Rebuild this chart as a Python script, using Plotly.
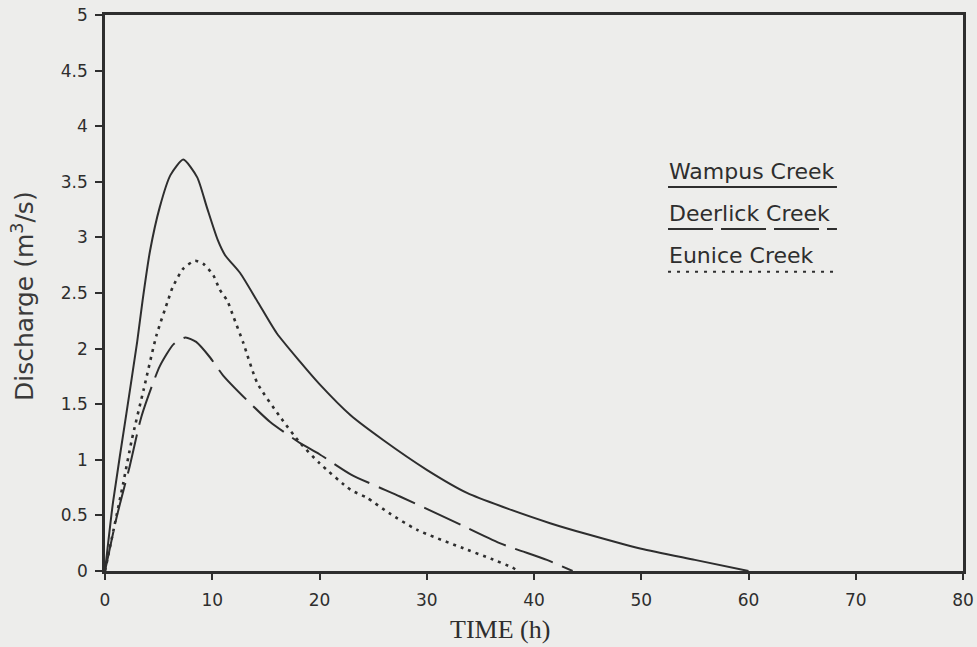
import plotly.graph_objects as go

# Hydrograph ordinates (time in hours, discharge in m^3/s)
wampus_t = [0, 0.75, 2, 3, 3.5, 4.2, 5.1, 6.1, 7.3, 8.6, 9.5, 10.5, 11.2, 12.6, 14.3,
            16, 18.2, 20, 22.9, 25.9, 30, 33.8, 37, 41.5, 45, 50, 55, 60]
wampus_q = [0, 0.62, 1.42, 2.06, 2.43, 2.88, 3.27, 3.56, 3.70, 3.54, 3.27, 2.98, 2.84, 2.68, 2.41,
            2.14, 1.88, 1.68, 1.40, 1.18, 0.91, 0.70, 0.58, 0.43, 0.33, 0.20, 0.10, 0]

deerlick_t = [0, 1.1, 2.3, 3.4, 5.1, 6.4, 7.5, 8.5, 9.8, 11, 13.2, 15.4, 18.2, 20,
              22.9, 27.5, 32.2, 36.8, 41.2, 43.6]
deerlick_q = [0, 0.49, 0.94, 1.39, 1.84, 2.04, 2.10, 2.06, 1.92, 1.76, 1.54, 1.34, 1.15, 1.05,
              0.87, 0.67, 0.46, 0.25, 0.10, 0]

eunice_t = [0, 1.7, 2.5, 3.6, 4.8, 5.9, 6.3, 7.3, 8.4, 9.2, 10.1, 10.7, 11.4, 12.0, 12.9,
            14.2, 16.3, 18.2, 20, 22.9, 24.4, 26.5, 29.1, 33.8, 36, 38, 38.5]
eunice_q = [0, 0.79, 1.18, 1.63, 2.12, 2.44, 2.55, 2.72, 2.79, 2.76, 2.66, 2.53, 2.43, 2.28, 2.05,
            1.69, 1.39, 1.15, 0.97, 0.73, 0.66, 0.52, 0.37, 0.19, 0.11, 0.03, 0]

series_names = ["Wampus Creek", "Deerlick Creek", "Eunice Creek"]
x_ticks = [0, 10, 20, 30, 40, 50, 60, 70, 80]

INK = "#2e2e2e"
BG = "#ededeb"
SANS = "DejaVu Sans"

fig = go.Figure()
fig.add_trace(go.Scatter(x=wampus_t, y=wampus_q, mode="lines", name=series_names[0],
                         line=dict(color=INK, width=2, shape="spline", smoothing=0.6)))
fig.add_trace(go.Scatter(x=deerlick_t, y=deerlick_q, mode="lines", name=series_names[1],
                         line=dict(color=INK, width=2, shape="spline", smoothing=0.6,
                                   dash="40px,10px")))
fig.add_trace(go.Scatter(x=eunice_t, y=eunice_q, mode="lines", name=series_names[2],
                         line=dict(color=INK, width=2.6, shape="spline", smoothing=0.6,
                                   dash="3px,5px")))

axis_common = dict(showline=True, mirror=True, linecolor=INK, linewidth=2.5,
                   ticks="outside", tickcolor=INK, tickwidth=1.5, showgrid=False,
                   zeroline=False, automargin=False,
                   tickfont=dict(family=SANS, size=17, color=INK))

fig.update_xaxes(range=[0, 80], tickvals=x_ticks, ticklen=6, ticklabelstandoff=6, **axis_common)
fig.update_yaxes(range=[0, 5], dtick=0.5, ticklen=7, ticklabelstandoff=4, **axis_common)

# Legend drawn as labels with a line sample underneath each
legend_rows = [
    (series_names[0], 0.7185, 0.6906, 0.8531, dict(color=INK, width=2)),
    (series_names[1], 0.643, 0.615, 0.8531, dict(color=INK, width=2, dash="45px,8px")),
    (series_names[2], 0.568, 0.538, 0.8485, dict(color=INK, width=2, dash="3px,6px")),
]
annotations = []
shapes = []
for name, ty, ly, x1, ls in legend_rows:
    annotations.append(dict(text=name, x=0.655, y=ty, xref="paper", yref="paper",
                            xanchor="left", yanchor="middle", showarrow=False,
                            font=dict(family=SANS, size=22, color=INK)))
    shapes.append(dict(type="line", xref="paper", yref="paper", x0=0.6562, x1=x1,
                       y0=ly, y1=ly, line=ls))

annotations.append(dict(text="TIME (h)", x=0.46, y=-0.106, xref="paper", yref="paper",
                        xanchor="center", yanchor="middle", showarrow=False,
                        font=dict(family="Liberation Serif", size=26, color=INK)))
annotations.append(dict(text="Discharge (m<sup>3</sup>/s)", x=-0.0956, y=0.4946,
                        xref="paper", yref="paper", xanchor="center", yanchor="middle",
                        textangle=-90, showarrow=False,
                        font=dict(family=SANS, size=25, color="#3a3a3a")))

fig.update_layout(width=977, height=647, paper_bgcolor=BG, plot_bgcolor=BG,
                  margin=dict(l=105, r=14, t=15, b=76, autoexpand=False), showlegend=False,
                  annotations=annotations, shapes=shapes)

fig.write_html("out.html")
